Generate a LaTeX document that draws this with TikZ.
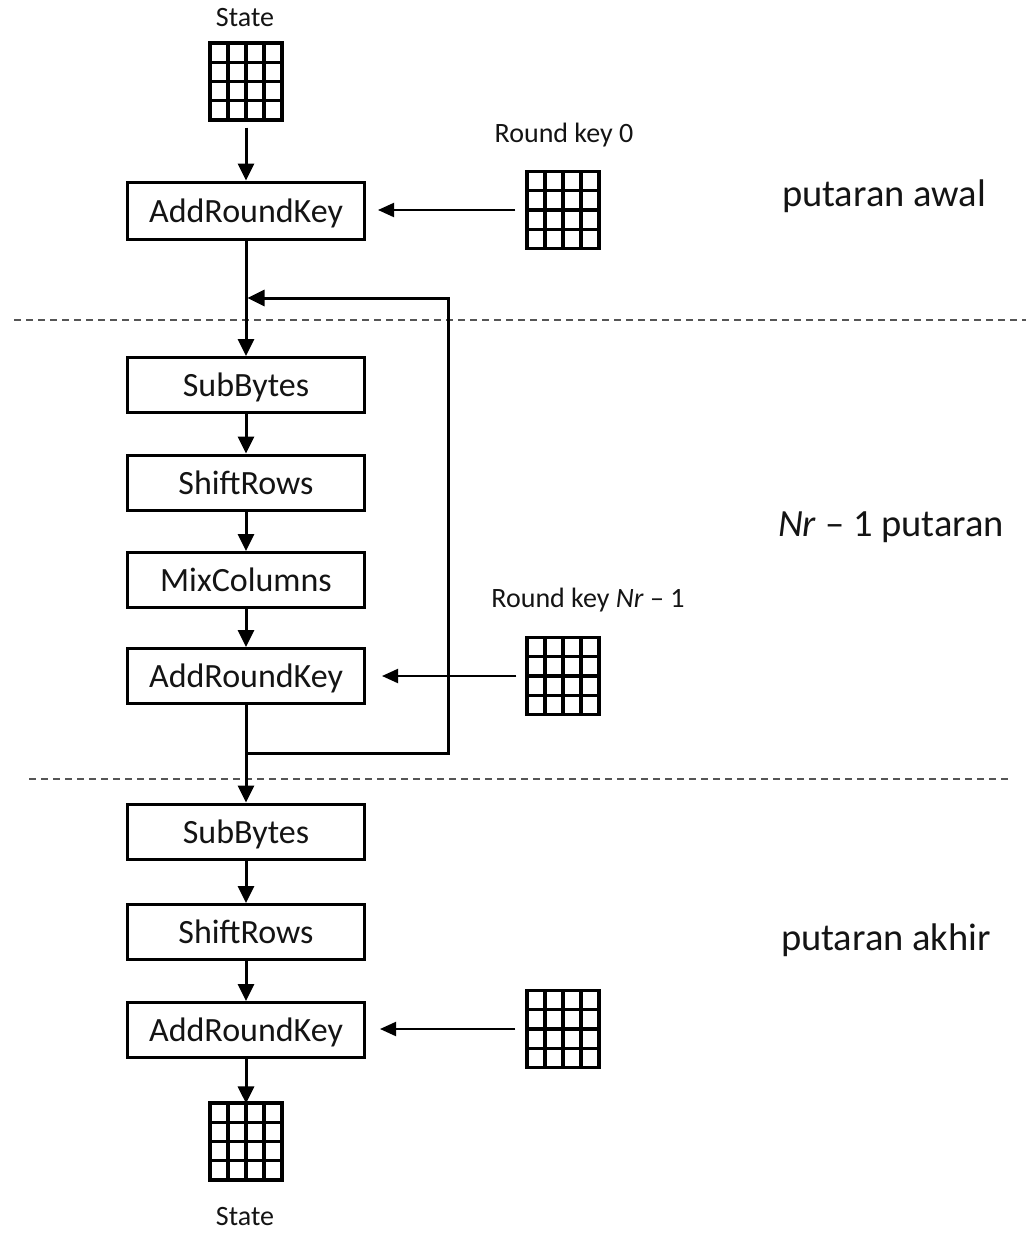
\documentclass[tikz,border=0pt]{standalone}
\usepackage{fontspec}
\setmainfont{Carlito}
\usetikzlibrary{arrows.meta,calc}
\definecolor{txt}{HTML}{141414}
\definecolor{dashc}{HTML}{555555}
\tikzset{
  stepbox/.style={draw=black, line width=3pt, minimum width=237pt, minimum height=55pt, inner sep=0pt,
    font=\fontsize{34}{40}\selectfont, text=txt, text height=23pt, text depth=0pt},
  gridbox/.style={draw=black, line width=3.2pt, minimum width=72pt, minimum height=77pt, inner sep=0pt,
    path picture={
      \foreach \i in {1,2,3}{
        \draw[line width=3.2pt] ($(path picture bounding box.south west)!\i/4!(path picture bounding box.south east)$) --
          ($(path picture bounding box.north west)!\i/4!(path picture bounding box.north east)$);
        \draw[line width=3.2pt] ($(path picture bounding box.south west)!\i/4!(path picture bounding box.north west)$) --
          ($(path picture bounding box.south east)!\i/4!(path picture bounding box.north east)$);
      }}},
  small/.style={font=\fontsize{28}{32}\selectfont, text=txt, inner sep=0pt},
  big/.style={font=\fontsize{38.5}{44}\selectfont, text=txt, inner sep=0pt},
  mainarrow/.style={line width=3pt, -{Triangle[length=17pt,width=16pt]}},
  keyarrow/.style={line width=2pt, -{Triangle[length=16pt,width=14pt]}},
  sepline/.style={dashc, line width=2pt, dash pattern=on 7pt off 5pt},
}
\begin{document}
\begin{tikzpicture}[x=1pt,y=-1pt]
\useasboundingbox (0,0) rectangle (1026,1235);

% state grids
\node[small] (stateT) at (245,18) {State};
\node[gridbox] (gs) at (246,81.5) {};
\node[gridbox] (ge) at (246,1141.5) {};
\node[small] (stateB) at (245,1217) {State};

% boxes
\node[stepbox, minimum height=57pt] (ark1) at (246,210.5) {AddRoundKey};
\node[stepbox] (sb1) at (246,385) {SubBytes};
\node[stepbox] (sr1) at (246,482.5) {ShiftRows};
\node[stepbox] (mc1) at (246,580) {MixColumns};
\node[stepbox] (ark2) at (246,676) {AddRoundKey};
\node[stepbox] (sb2) at (246,831.5) {SubBytes};
\node[stepbox] (sr2) at (246,932) {ShiftRows};
\node[stepbox] (ark3) at (246,1030) {AddRoundKey};

% key grids
\node[small] (lk0) at (564,135) {Round key 0};
\node[gridbox] (k0) at (563,210) {};
\node[small] (lk1) at (588,600) {Round key \textit{Nr} – 1};
\node[gridbox] (k1) at (563,676) {};
\node[gridbox] (k2) at (563,1029) {};

% side labels
\node[big] (pa) at (884,196) {putaran awal};
\node[big] (pn) at (891,527) {\textit{Nr} – 1 putaran};
\node[big] (pk) at (886,940) {putaran akhir};

% separators
\draw[sepline] (14,320) -- (1026,320);
\draw[sepline] (29,779) -- (1010,779);

% main flow
\draw[mainarrow] (gs.south) ++(0,6) -- (ark1.north);
\draw[mainarrow] (ark1.south) -- (sb1.north);
\draw[mainarrow] (sb1.south) -- (sr1.north);
\draw[mainarrow] (sr1.south) -- (mc1.north);
\draw[mainarrow] (mc1.south) -- (ark2.north);
\draw[mainarrow] (ark2.south) -- (sb2.north);
\draw[mainarrow] (sb2.south) -- (sr2.north);
\draw[mainarrow] (sr2.south) -- (ark3.north);
\draw[mainarrow] (ark3.south) -- ([yshift=-2pt]ge.north);

% loop
\coordinate (la) at (246,753);
\coordinate (lb) at (448,753);
\coordinate (lc) at (448,298);
\coordinate (ld) at (247.5,298);
\draw[mainarrow] (la) -- (lb) -- (lc) -- (ld);

% key arrows
\draw[keyarrow, shorten <=10pt, shorten >=12pt] (k0.west) -- (k0.west -| ark1.east);
\draw[keyarrow, shorten <=9pt, shorten >=16pt] (k1.west) -- (k1.west -| ark2.east);
\draw[keyarrow, shorten <=10pt, shorten >=14pt] (k2.west) -- (k2.west -| ark3.east);
\end{tikzpicture}
\end{document}
